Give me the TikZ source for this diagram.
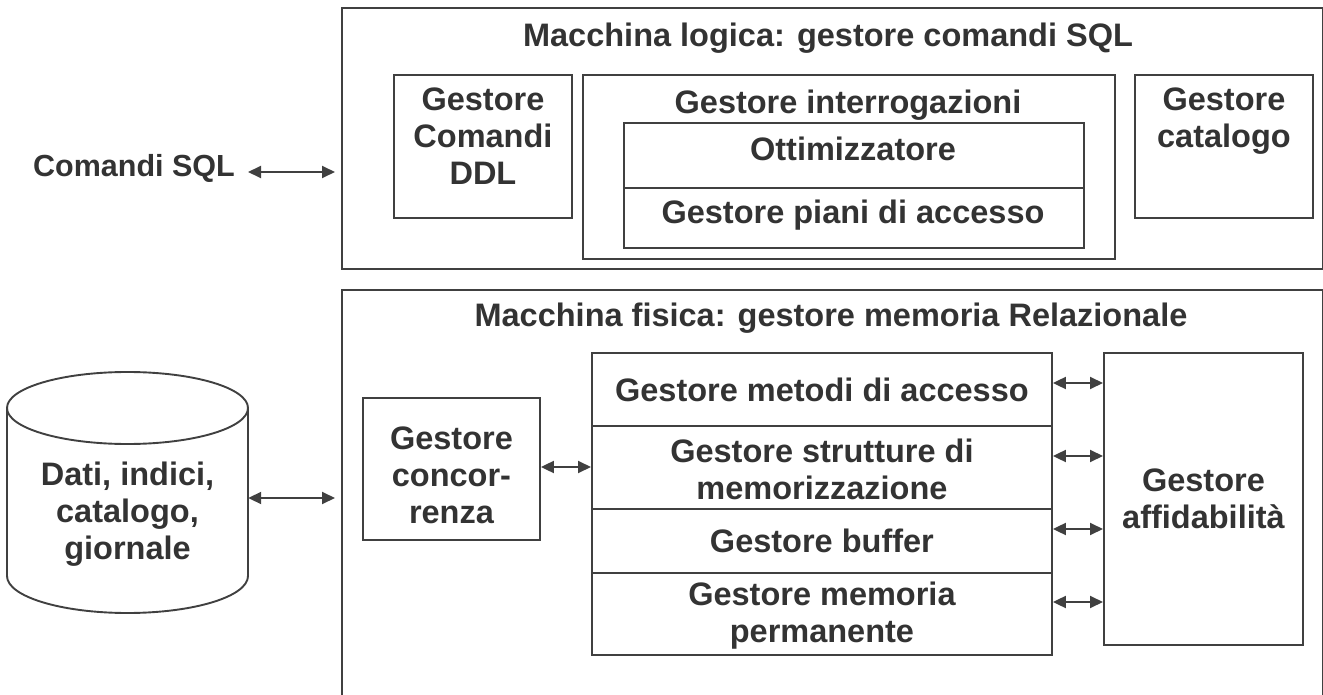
\documentclass[tikz,border=0pt]{standalone}
\usepackage{fontspec}
\setmainfont{Liberation Sans}
\usetikzlibrary{arrows.meta,calc}
\definecolor{ink}{HTML}{333333}
\definecolor{edge}{HTML}{404040}
\begin{document}
\begin{tikzpicture}[x=1pt,y=1pt,
  blk/.style={draw=edge, line width=1.9pt, inner sep=0pt, anchor=north west},
  lbl/.style={text=ink, font=\fontsize{32.5}{37}\selectfont\bfseries, align=center, inner sep=0pt},
  dbl/.style={draw=edge, line width=1.9pt, {Triangle[length=13pt,width=12pt]}-{Triangle[length=13pt,width=12pt]}}]
\useasboundingbox (0,0) rectangle (1323,-695);

% ---------- logical machine ----------
\node[blk, minimum width=981, minimum height=261] (logic) at (341,-7) {};
\node[lbl, anchor=base] (logict) at (828,-47) {Macchina logica: gestore comandi SQL};
\node[blk, minimum width=178, minimum height=143] (ddl) at (393,-74) {};
\node[lbl, anchor=north] (ddlt) at ($(ddl.north)+(0,-14)$) {Gestore\\Comandi\\DDL};
\node[blk, minimum width=532, minimum height=184] (qry) at (582,-74) {};
\node[lbl, anchor=base] (qryt) at (848,-114) {Gestore interrogazioni};
\node[blk, minimum width=460, minimum height=65] (opt) at (623,-122) {};
\node[lbl, anchor=base] (optt) at (853,-161) {Ottimizzatore};
\node[blk, minimum width=460, minimum height=60] (pia) at (623,-187) {};
\node[lbl, anchor=base] (piat) at (853,-224) {Gestore piani di accesso};
\node[blk, minimum width=178, minimum height=143] (cat) at (1134,-74) {};
\node[lbl, anchor=north] (catt) at ($(cat.north)+(0,-14)$) {Gestore\\catalogo};

\node[lbl, anchor=base, font=\fontsize{30.5}{35}\selectfont\bfseries] (sql) at (134,-177) {Comandi SQL};
\coordinate (sqla) at (248,-172);
\draw[dbl, shorten >=6pt] (sqla) -- (logic.west|-sqla);

% ---------- physical machine ----------
\node[blk, minimum width=981, minimum height=411] (phys) at (341,-289) {};
\node[lbl, anchor=base] (physt) at (831,-326) {Macchina fisica: gestore memoria Relazionale};
\node[blk, minimum width=177, minimum height=142] (conc) at (362,-397) {};
\node[lbl] (conct) at ($(conc.center)+(0,-6)$) {Gestore\\concor-\\renza};

\node[blk, minimum width=460, minimum height=73] (m1) at (591,-352) {};
\node[lbl] (m1t) at (m1.center) {Gestore metodi di accesso};
\node[blk, minimum width=460, minimum height=83] (m2) at (591,-425) {};
\node[lbl] (m2t) at ($(m2.center)+(0,-2)$) {Gestore strutture di\\memorizzazione};
\node[blk, minimum width=460, minimum height=64] (m3) at (591,-508) {};
\node[lbl] (m3t) at (m3.center) {Gestore buffer};
\node[blk, minimum width=460, minimum height=82] (m4) at (591,-572) {};
\node[lbl] (m4t) at ($(m4.center)+(0,-2)$) {Gestore memoria\\permanente};

\node[blk, minimum width=199, minimum height=292] (aff) at (1103,-352) {};
\node[lbl] (afft) at (aff.center) {Gestore\\affidabilità};

\coordinate (a1) at (0,-383);
\coordinate (a2) at (0,-456);
\coordinate (a3) at (0,-529);
\coordinate (a4) at (0,-602);
\draw[dbl] (m1.east|-a1) -- (aff.west|-a1);
\draw[dbl] (m2.east|-a2) -- (aff.west|-a2);
\draw[dbl] (m3.east|-a3) -- (aff.west|-a3);
\draw[dbl] (m4.east|-a4) -- (aff.west|-a4);

\coordinate (ca) at (0,-467);
\draw[dbl] (conc.east|-ca) -- (m2.west|-ca);

% ---------- database cylinder ----------
\draw[draw=edge, line width=1.9pt] (7,-408) -- (7,-576)
  arc[start angle=180, end angle=360, x radius=120.5, y radius=37] -- (248,-408);
\draw[draw=edge, line width=1.9pt] (127.5,-408) ellipse [x radius=120.5, y radius=36];
\node[lbl, minimum width=241, minimum height=168] (db) at (127.5,-514) {Dati, indici,\\catalogo,\\giornale};
\coordinate (da) at (0,-498);
\draw[dbl, shorten >=6pt] (db.east|-da) -- (phys.west|-da);
\end{tikzpicture}
\end{document}
